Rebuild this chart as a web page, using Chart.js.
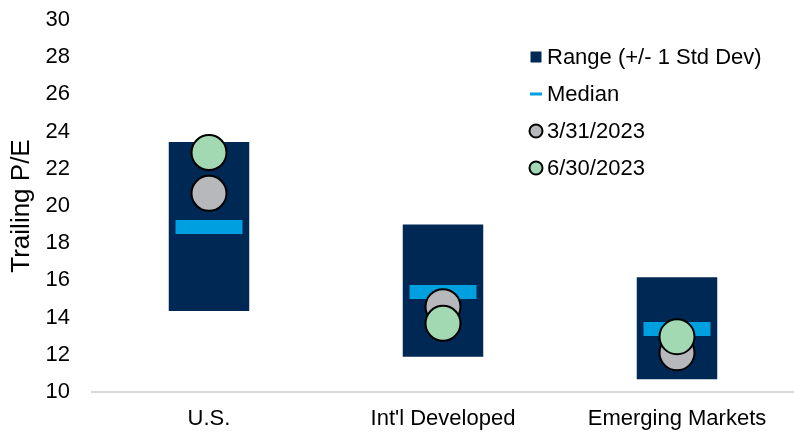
<!DOCTYPE html>
<html>
<head>
<meta charset="utf-8">
<script src="https://cdn.jsdelivr.net/npm/chart.js@4/dist/chart.umd.min.js"></script>
<style>
  html, body { margin: 0; padding: 0; background: #fff; }
</style>
</head>
<body>
<canvas id="peChart" width="794" height="432"></canvas>
<script>
// data
const categories = ['U.S.', "Int'l Developed", 'Emerging Markets'];
const rangeLow = [14.35, 11.9, 10.68];
const rangeHigh = [23.44, 19.0, 16.17];
const medianPE = [18.87, 15.38, 13.39];
const pe20230331 = [20.68, 14.59, 12.11];
const pe20230630 = [22.87, 13.69, 12.97];
const yTicks = [10, 12, 14, 16, 18, 20, 22, 24, 26, 28, 30];

const NAVY = '#002855';
const BLUE = '#009FDF';
const GRAY = '#B6B8BC';
const GREEN = '#A2D9B2';
const FONT = "'Liberation Sans', Arial, sans-serif";

// legend drawn by hand so marker + text spacing matches the original
const sideLegend = {
  id: 'sideLegend',
  afterDraw(chart) {
    const ctx = chart.ctx;
    const x = 536, y0 = 57, step = 37;
    ctx.save();
    ctx.font = '22px ' + FONT;
    ctx.textBaseline = 'middle';
    chart.data.datasets.forEach((ds, i) => {
      const y = y0 + i * step;
      if (ds.legendMark === 'rect') {
        ctx.fillStyle = NAVY;
        ctx.fillRect(x - 5.5, y - 5.5, 11, 11);
      } else if (ds.legendMark === 'line') {
        ctx.fillStyle = BLUE;
        ctx.fillRect(x - 6, y - 1.5, 12, 3);
      } else {
        ctx.beginPath();
        ctx.arc(x, y, 6.5, 0, Math.PI * 2);
        ctx.fillStyle = ds.pointBackgroundColor;
        ctx.fill();
        ctx.lineWidth = 2;
        ctx.strokeStyle = '#000';
        ctx.stroke();
      }
      ctx.fillStyle = '#000';
      ctx.fillText(ds.label, 547, y + 1);
    });
    ctx.restore();
  }
};

const chartEl = document.getElementById('peChart');
const peChart = new Chart(chartEl, {
  type: 'bar',
  data: {
    labels: categories,
    datasets: [{
      label: 'Range (+/- 1 Std Dev)',
      legendMark: 'rect',
      data: categories.map((c, i) => [rangeLow[i], rangeHigh[i]]),
      backgroundColor: NAVY,
      borderWidth: 0,
      categoryPercentage: 1,
      barPercentage: 0.344,
      order: 4
    }, {
      type: 'line',
      label: 'Median',
      legendMark: 'line',
      data: medianPE,
      showLine: false,
      pointStyle: 'line',
      pointRadius: 33.5,
      pointBorderWidth: 14,
      pointBorderColor: BLUE,
      pointBackgroundColor: BLUE,
      order: 3
    }, {
      type: 'line',
      label: '3/31/2023',
      legendMark: 'circle',
      data: pe20230331,
      showLine: false,
      pointRadius: 17.5,
      pointBorderWidth: 2,
      pointBorderColor: '#000',
      pointBackgroundColor: GRAY,
      order: 2
    }, {
      type: 'line',
      label: '6/30/2023',
      legendMark: 'circle',
      data: pe20230630,
      showLine: false,
      pointRadius: 17.5,
      pointBorderWidth: 2,
      pointBorderColor: '#000',
      pointBackgroundColor: GREEN,
      order: 1
    }]
  },
  options: {
    responsive: false,
    animation: false,
    events: [],
    layout: { autoPadding: false, padding: { top: 20, right: 0, bottom: 0, left: 0 } },
    scales: {
      x: {
        afterFit(scale) { scale.height = 40; },
        grid: { display: false, drawTicks: false },
        border: { display: true, color: '#D9D9D9', width: 2 },
        ticks: { color: '#000', padding: 14, font: { family: FONT, size: 22 } }
      },
      y: {
        min: 10,
        max: 30,
        afterBuildTicks(scale) { scale.ticks = yTicks.map(v => ({ value: v })); },
        afterFit(scale) {
          scale.width = 92;
          scale.paddingTop = 0;
          scale.paddingBottom = 0;
        },
        grid: { display: false, drawTicks: false },
        border: { display: false },
        ticks: { color: '#000', padding: 22, font: { family: FONT, size: 22 } },
        title: {
          display: true,
          text: 'Trailing P/E',
          color: '#000',
          padding: { top: 6, bottom: 0 },
          font: { family: FONT, size: 26 }
        }
      }
    },
    plugins: {
      legend: { display: false },
      tooltip: { enabled: false }
    }
  },
  plugins: [sideLegend]
});
</script>
</body>
</html>
